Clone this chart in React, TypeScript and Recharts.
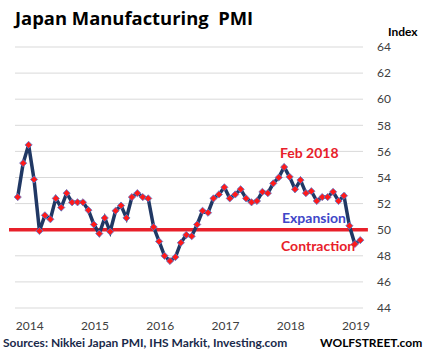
import React from 'react';
import { LineChart, Line, XAxis, YAxis, CartesianGrid, ReferenceLine } from 'recharts';

// monthly index values, Dec 2013 .. Mar 2019
const pmi = [
  52.5, 55.1, 56.5, 53.85, 49.9, 51.1, 50.8, 52.4, 51.7, 52.8,
  52.1, 52.1, 52.1, 51.5, 50.4, 49.7, 50.9, 49.85, 51.45, 51.85,
  50.9, 52.5, 52.8, 52.5, 52.4, 50.2, 49.1, 48.0, 47.6, 47.9,
  49.0, 49.6, 49.5, 50.4, 51.45, 51.3, 52.4, 52.7, 53.25, 52.4,
  52.7, 53.1, 52.4, 52.1, 52.2, 52.9, 52.8, 53.55, 54.0, 54.8,
  54.05, 53.1, 53.8, 52.8, 52.95, 52.2, 52.5, 52.5, 52.9, 52.2,
  52.6, 50.3, 48.9, 49.2,
];
const yearLabels = ['2014', '2015', '2016', '2017', '2018', '2019'];
const yearTicks = [2.2, 14.2, 26.2, 38.2, 50.2, 62.2];
const yTicks = [44, 46, 48, 50, 52, 54, 56, 58, 60, 62, 64];

const data = pmi.map((v, i) => ({ i, v }));

const FONT = 'Lato, "Open Sans", sans-serif';

const Diamond = (props: any) => {
  const { cx, cy, index } = props;
  if (cx == null || cy == null) return null;
  const r = 3.6;
  return (
    <polygon
      key={index}
      points={`${cx},${cy - r} ${cx + r},${cy} ${cx},${cy + r} ${cx - r},${cy}`}
      fill="#ff1a1a"
      stroke="#5b7bd0"
      strokeWidth={0.8}
    />
  );
};

const App: React.FC = () => {
  return (
    <div style={{ position: 'fixed', left: 0, top: 0, width: 427, height: 356, background: '#fff', fontFamily: FONT }}>
      <div style={{ position: 'absolute', left: 15, top: 9, fontSize: 18.4, lineHeight: 1, fontWeight: 700, color: '#000', whiteSpace: 'pre', fontFamily: '"Open Sans", sans-serif' }}>
        {'Japan Manufacturing  PMI'}
      </div>
      <div style={{ position: 'absolute', left: 388, top: 24, fontSize: 12, fontWeight: 700, color: '#000' }}>Index</div>

      <LineChart width={427} height={356} data={data} margin={{ top: 47, right: 32, bottom: 18, left: 15 }}>
        <CartesianGrid vertical={false} stroke="#d9d9d9" strokeWidth={1} />
        <XAxis
          dataKey="i"
          type="number"
          domain={[-0.5, 63.5]}
          ticks={yearTicks}
          tickFormatter={(_v: number, idx: number) => yearLabels[idx]}
          axisLine={false}
          tickLine={false}
          tickSize={0}
          tickMargin={13}
          height={30}
          interval={0}
          tick={{ fill: '#404040', fontSize: 12, fontFamily: FONT }}
        />
        <YAxis
          orientation="right"
          domain={[44, 64]}
          ticks={yTicks}
          interval={0}
          axisLine={false}
          tickLine={false}
          tickSize={0}
          tickMargin={14}
          width={32}
          tick={{ fill: '#404040', fontSize: 12, fontFamily: FONT, textAnchor: 'start' }}
        />
        <ReferenceLine
          segment={[{ x: -1.6, y: 50 }, { x: 64.4, y: 50 }]}
          ifOverflow="visible"
          stroke="#e8202a"
          strokeWidth={3.5}
        />
        <Line
          type="linear"
          dataKey="v"
          stroke="#203864"
          strokeWidth={3.5}
          dot={Diamond}
          activeDot={false}
          isAnimationActive={false}
        />
      </LineChart>

      <div style={{ position: 'absolute', left: 280, top: 144, fontSize: 14, fontWeight: 700, color: '#e8202a' }}>Feb 2018</div>
      <div style={{ position: 'absolute', left: 282, top: 209, fontSize: 14, fontWeight: 700, color: '#4046c8' }}>Expansion</div>
      <div style={{ position: 'absolute', left: 281, top: 237, fontSize: 14, fontWeight: 700, color: '#e8202a' }}>Contraction</div>

      <div style={{ position: 'absolute', left: 3, top: 335, fontSize: 12, fontWeight: 700, color: '#1a2a4a' }}>
        Sources: Nikkei Japan PMI, IHS Markit, Investing.com
      </div>
      <div style={{ position: 'absolute', left: 320, top: 335, fontSize: 12, fontWeight: 700, color: '#000' }}>WOLFSTREET.com</div>
    </div>
  );
};

export default App;
